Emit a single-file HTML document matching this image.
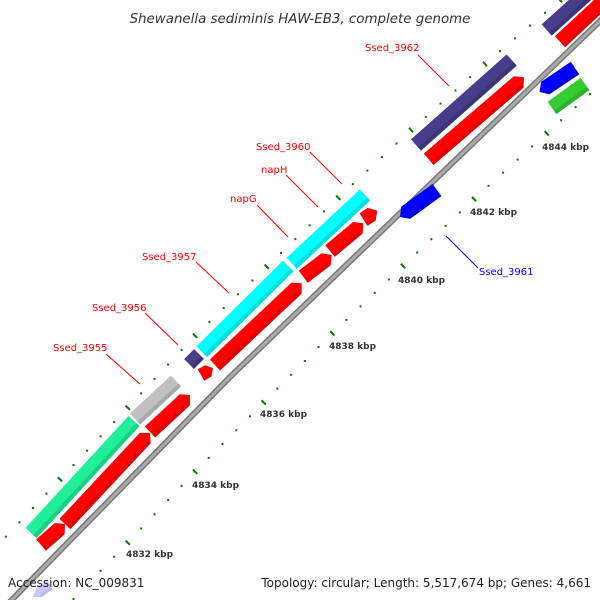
<!DOCTYPE html>
<html><head><meta charset="utf-8"><style>
html,body{margin:0;padding:0;background:#fff;}
svg{display:block;font-family:"DejaVu Sans","Liberation Sans",sans-serif;}
.gl{font-size:10px;fill:#ff0000;}
.kb{font-size:9px;fill:#333;font-weight:bold;}
</style></head><body>
<svg id="s" width="600" height="600" viewBox="0 0 600 600" xmlns="http://www.w3.org/2000/svg">
<rect width="600" height="600" fill="#fff"/>
<g id="ticks"></g>
<polyline points="-8,620 11.7,600 230,377 393,220 598,23 622,0" fill="none" stroke="#777" stroke-width="6"/>
<polyline points="-8,620 11.7,600 230,377 393,220 598,23 622,0" fill="none" stroke="#aaa" stroke-width="3"/>
<g id="feat"></g>
<g stroke="#ff0000" stroke-width="1">
<line x1="418" y1="55" x2="449" y2="86"/>
<line x1="310" y1="152" x2="342" y2="184"/>
<line x1="286" y1="175" x2="318" y2="207"/>
<line x1="257" y1="205" x2="288" y2="237"/>
<line x1="196" y1="262" x2="229" y2="293"/>
<line x1="145" y1="313" x2="178" y2="345"/>
<line x1="106" y1="354" x2="140" y2="384"/>
</g>
<line x1="446" y1="236" x2="478" y2="268" stroke="#0000ff" stroke-width="1"/>
<text class="gl" x="365" y="51">Ssed_3962</text>
<text class="gl" x="256" y="150">Ssed_3960</text>
<text class="gl" x="261" y="173">napH</text>
<text class="gl" x="230" y="202">napG</text>
<text class="gl" x="142" y="260">Ssed_3957</text>
<text class="gl" x="92" y="311">Ssed_3956</text>
<text class="gl" x="53" y="351">Ssed_3955</text>
<text class="gl" x="479" y="275" style="fill:#0000ff">Ssed_3961</text>
<text class="kb" x="126" y="557">4832 kbp</text>
<text class="kb" x="192" y="488">4834 kbp</text>
<text class="kb" x="260" y="417">4836 kbp</text>
<text class="kb" x="329" y="349">4838 kbp</text>
<text class="kb" x="398" y="283">4840 kbp</text>
<text class="kb" x="470" y="215">4842 kbp</text>
<text class="kb" x="542" y="150">4844 kbp</text>
<text x="300" y="23" text-anchor="middle" font-size="13.4" font-style="italic" fill="#333">Shewanella sediminis HAW-EB3, complete genome</text>
<text x="8" y="587" font-size="12" fill="#222">Accession: NC_009831</text>
<text x="591" y="587" text-anchor="end" font-size="12" fill="#222">Topology: circular; Length: 5,517,674 bp; Genes: 4,661</text>
</svg>
<script>
var NS="http://www.w3.org/2000/svg";
function el(p,t,a){var e=document.createElementNS(NS,t);for(var k in a)e.setAttribute(k,a[k]);p.appendChild(e);return e;}
var F=document.getElementById("feat"),T=document.getElementById("ticks");
function bar(x1,y1,x2,y2,w,col,dark,arrow){
 var dx=x2-x1,dy=y2-y1,L=Math.sqrt(dx*dx+dy*dy),ux=dx/L,uy=dy/L,nx=-uy,ny=ux,h=w/2,hl=Math.min(7,L*0.4);
 var P=[];
 function pt(s,t){return [x1+ux*s+nx*t,y1+uy*s+ny*t];}
 if(arrow==1){P=[pt(0,-h),pt(L-hl,-h),pt(L,0),pt(L-hl,h),pt(0,h)];}
 else if(arrow==-1){P=[pt(0,0),pt(hl,-h),pt(L,-h),pt(L,h),pt(hl,h)];}
 else{P=[pt(0,-h),pt(L,-h),pt(L,h),pt(0,h)];}
 el(F,"polygon",{points:P.map(function(p){return p[0].toFixed(1)+","+p[1].toFixed(1)}).join(" "),fill:col});
 var a=(arrow==-1)?hl:0,b=(arrow==1)?L-hl:L;
 var Q=[pt(a,h*0.45),pt(b,h*0.45),pt(b,h),pt(a,h)];
 el(F,"polygon",{points:Q.map(function(p){return p.join(",")}).join(" "),fill:dark,opacity:0.4});
}
var R="#ff0000",RD="#b00000",W=15;
bar(546.7,30,620,-36,W,"#483d8b","#2c2560",0);
bar(416,145,511.7,60,W,"#483d8b","#2c2560",0);
bar(201.7,351.7,288.3,266,W,"#00ffff","#00b0b0",0);
bar(291.7,263.3,365,195,W,"#00ffff","#00b0b0",0);
bar(189,364,199,354,14,"#483d8b","#2c2560",0);
bar(31,533,134,421,W,"#22ee99","#10a060",0);
bar(135,419,176,381,W,"#c0c0c0","#888",0);
bar(560,41.7,620,-14,W,R,RD,0);
bar(428.7,159.3,524,77.3,W,R,RD,1);
bar(215,365,301.7,283.3,W,R,RD,1);
bar(303.3,276.7,331.7,255,W,R,RD,1);
bar(330,251,363.3,223.3,W,R,RD,1);
bar(363.5,219.5,377.3,210.7,W,R,RD,1);
bar(201,375,213,368,13,R,RD,1);
bar(41,545,65,524,W,R,RD,1);
bar(65,524,150,433,W,R,RD,1);
bar(150,432,190,395,W,R,RD,1);
bar(400,217,437,190,W,"#0000ff","#0000a0",-1);
bar(539.5,92,575,68,W,"#0000ff","#0000a0",-1);
bar(552,108,585,84,W,"#33cc33","#1f8a1f",0);
bar(33,597,50,585,10,"#c8c8ff","#aaa",-1);
function ticks(maj,n){
 for(var i=0;i<maj.length-1;i++){var a=maj[i],b=maj[i+1];
  var dx=b[0]-a[0],dy=b[1]-a[1],L=Math.sqrt(dx*dx+dy*dy),nx=-dy/L,ny=dx/L;
  el(T,"line",{x1:a[0]-nx*3,y1:a[1]-ny*3,x2:a[0]+nx*3,y2:a[1]+ny*3,stroke:"#007700","stroke-width":2});
  for(var k=1;k<n;k++){var x=a[0]+dx*k/n,y=a[1]+dy*k/n;el(T,"rect",{x:x-1,y:y-1,width:2,height:2,fill:"#007700"});}
 }
}
ticks([[-7.7,551],[60,479.3],[127.7,407.7],[195,335.7],[266.7,266.7],[338.3,197.7],[411,130],[485,64],[560,0],[635,-64]],5);
ticks([[60,613],[127.7,542.7],[195,471.7],[263.7,402.5],[332.3,333.3],[403,266],[474,199],[546.7,133.3],[619,68],[690,3]],5);
</script>
</body></html>
